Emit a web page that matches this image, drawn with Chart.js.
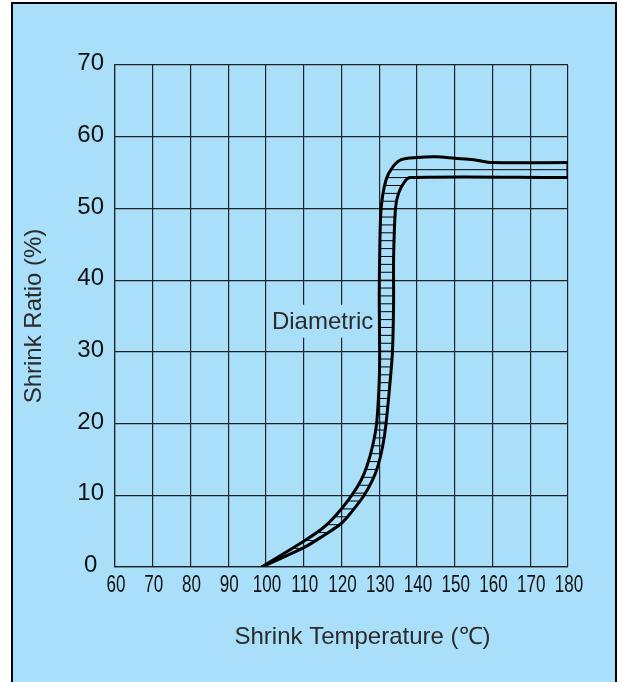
<!DOCTYPE html>
<html>
<head>
<meta charset="utf-8">
<script src="https://cdn.jsdelivr.net/npm/chart.js@4.4.1/dist/chart.umd.min.js"></script>
<style>
  html, body { margin: 0; padding: 0; background: #ffffff; }
  #frame { position: absolute; left: 11px; top: 2px; width: 602px; height: 700px;
           background: #aadff9; border: 2px solid #000; border-bottom: none; }
  #wrap { position: absolute; left: 0; top: 0; width: 622px; height: 682px; }
</style>
</head>
<body>
<div id="frame"></div>
<div id="wrap"><canvas id="c" width="622" height="682"></canvas></div>
<script>
// ---- data ----
const xTicks = [60, 70, 80, 90, 100, 110, 120, 130, 140, 150, 160, 170, 180];
const yTicks = [0, 10, 20, 30, 40, 50, 60, 70];

// upper / left boundary of the diametric band
const upperX = [98.8, 110, 115, 119, 122.7, 125.2, 126.7, 128.2, 129.3, 130.0, 130.1, 130.0, 130.1, 130.5, 131.8, 133.6, 135.8, 140, 145, 150, 155, 160, 180];
const upperY = [0, 3.6, 5.4, 7.5, 10, 12.1, 14, 16.8, 20, 26, 30, 37, 43, 50, 54, 55.8, 56.8, 57.1, 57.2, 57.0, 56.8, 56.4, 56.4];

// lower / right boundary of the diametric band
const lowerX = [98.8, 110, 115, 120, 123, 126, 128.2, 129.6, 130.9, 131.8, 132.9, 133.5, 133.8, 133.8, 134.3, 135.1, 136.7, 138.2, 180];
const lowerY = [0, 2.7, 4.3, 6.1, 7.9, 10, 12.1, 14, 16.8, 20, 26, 30, 37, 43, 50, 52.1, 53.7, 54.3, 54.3];

// closing edge at the right end
const endX = [180, 180];
const endY = [54.3, 56.4];

const labelText = 'Diametric';
const labelX = 115.0, labelY = 34.2;
const xTitle = 'Shrink Temperature (℃)';
const yTitle = 'Shrink Ratio (%)';

const toPts = (xs, ys) => xs.map((x, i) => ({ x: x, y: ys[i] }));

const BG = '#aadff9';
const GRID = '#1f2326';
const FONT = '"Liberation Sans", Arial, sans-serif';

function sampleCurve(meta) {
  const pts = meta.data;
  const out = [];
  for (let i = 0; i < pts.length - 1; i++) {
    const p0 = pts[i], p1 = pts[i + 1];
    const c1x = p0.cp2x !== undefined ? p0.cp2x : p0.x;
    const c1y = p0.cp2y !== undefined ? p0.cp2y : p0.y;
    const c2x = p1.cp1x !== undefined ? p1.cp1x : p1.x;
    const c2y = p1.cp1y !== undefined ? p1.cp1y : p1.y;
    const N = 40;
    for (let k = (i === 0 ? 0 : 1); k <= N; k++) {
      const t = k / N, u = 1 - t;
      out.push({
        x: u*u*u*p0.x + 3*u*u*t*c1x + 3*u*t*t*c2x + t*t*t*p1.x,
        y: u*u*u*p0.y + 3*u*u*t*c1y + 3*u*t*t*c2y + t*t*t*p1.y
      });
    }
  }
  return out;
}
function crossing(samples, Y) {
  for (let i = 0; i < samples.length - 1; i++) {
    const a = samples[i], b = samples[i + 1];
    if ((a.y - Y) * (b.y - Y) <= 0 && a.y !== b.y) {
      return a.x + (Y - a.y) / (b.y - a.y) * (b.x - a.x);
    }
  }
  return null;
}

const decor = {
  id: 'decor',
  beforeDatasetsDraw(chart) {
    const ctx = chart.ctx;
    const xs = chart.scales.x, ys = chart.scales.y;
    const cx = xs.getPixelForValue(labelX), cy = ys.getPixelForValue(labelY);
    ctx.save();
    ctx.fillStyle = BG;
    ctx.fillRect(cx - 53, cy - 17, 106, 33);
    ctx.fillStyle = '#2b2b2b';
    ctx.font = '24px ' + FONT;
    ctx.textAlign = 'center';
    ctx.textBaseline = 'middle';
    ctx.fillText(labelText, cx, cy + 1);
    ctx.restore();
  },
  afterDatasetsDraw(chart) {
    const ctx = chart.ctx;
    const ys = chart.scales.y;
    const xs = chart.scales.x;
    const up = sampleCurve(chart.getDatasetMeta(0));
    const lo = sampleCurve(chart.getDatasetMeta(1));
    const endPx = lo[lo.length - 1].x;
    const step = 1.1, start = 0.4;
    const limit = upperY[upperY.length - 1] - 0.5;
    ctx.save();
    ctx.strokeStyle = '#000';
    ctx.lineWidth = 1;
    for (let v = start; v < limit; v += step) {
      const Y = ys.getPixelForValue(v);
      const xl = crossing(up, Y);
      let xr = crossing(lo, Y);
      if (xr === null) xr = endPx;
      if (xl === null || xr <= xl) continue;
      ctx.beginPath();
      ctx.moveTo(xl, Y);
      ctx.lineTo(xr, Y);
      ctx.stroke();
    }
    ctx.restore();

    // condensed x tick labels (the reference uses a narrow face)
    ctx.save();
    ctx.fillStyle = '#111';
    ctx.font = '23px ' + FONT;
    ctx.textAlign = 'center';
    ctx.textBaseline = 'middle';
    const ty = xs.top + 19;
    xTicks.forEach(v => {
      const px = xs.getPixelForValue(v);
      ctx.save();
      ctx.translate(px + 1, ty);
      ctx.scale(0.74, 1);
      ctx.fillText(String(v), 0, 0);
      ctx.restore();
    });
    ctx.restore();

    // x axis title
    ctx.save();
    ctx.fillStyle = '#2b2b2b';
    ctx.font = '24px ' + FONT;
    ctx.textAlign = 'center';
    ctx.textBaseline = 'middle';
    ctx.fillText(xTitle, (xs.left + xs.right) / 2 + 21, 637);
    ctx.restore();
  }
};

new Chart(document.getElementById('c'), {
  type: 'line',
  data: {
    datasets: [
      { data: toPts(upperX, upperY), borderColor: '#000', borderWidth: 3, pointRadius: 0, tension: 0.3, fill: false },
      { data: toPts(lowerX, lowerY), borderColor: '#000', borderWidth: 3, pointRadius: 0, tension: 0.3, fill: false },
      { data: toPts(endX, endY), borderColor: '#000', borderWidth: 3, pointRadius: 0, tension: 0, fill: false }
    ]
  },
  options: {
    responsive: false,
    animation: false,
    devicePixelRatio: 1,
    layout: { padding: { left: 0, top: 65, right: 54, bottom: 0 } },
    plugins: { legend: { display: false }, tooltip: { enabled: false } },
    scales: {
      x: {
        type: 'linear', min: 60, max: 180,
        afterBuildTicks: s => { s.ticks = xTicks.map(v => ({ value: v })); },
        afterFit: s => { s.height = 115; },
        grid: { color: GRID, lineWidth: 1.2, drawTicks: false },
        border: { color: GRID, width: 1.2 },
        ticks: { display: false }
      },
      y: {
        type: 'linear', min: 0, max: 70,
        afterBuildTicks: s => { s.ticks = yTicks.map(v => ({ value: v })); },
        afterFit: s => { s.width = 115; },
        grid: { color: GRID, lineWidth: 1.2, drawTicks: false },
        border: { color: GRID, width: 1.2 },
        ticks: { color: '#111', padding: 11, crossAlign: 'center', autoSkip: false, labelOffset: -1.5,
                 font: { family: FONT, size: 24 } },
        title: { display: true, text: yTitle, color: '#2b2b2b', padding: { top: 20, bottom: 0 },
                 font: { family: FONT, size: 24 } }
      }
    }
  },
  plugins: [decor]
});
</script>
</body>
</html>
